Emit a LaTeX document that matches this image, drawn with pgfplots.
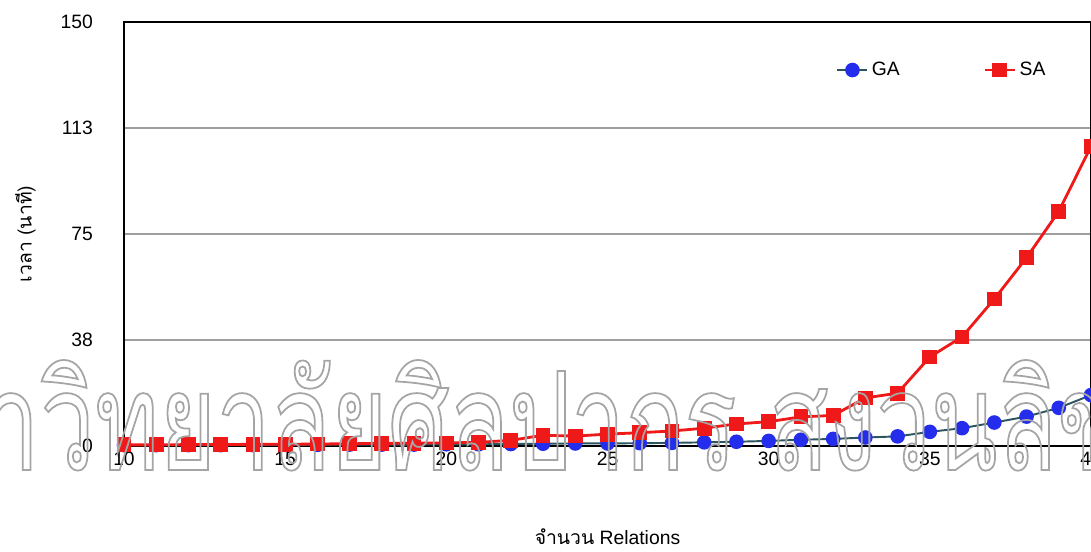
\documentclass[border=0pt]{standalone}
\usepackage{fontspec}
\setmainfont{Liberation Sans}
\newfontfamily\thaifont[Script=Thai]{Loma}
\newfontfamily\wmfont[Script=Thai,FakeStretch=0.71]{Loma}
\usepackage{pgfplots}
\pgfplotsset{compat=1.18}
\definecolor{gablue}{RGB}{35,45,235}
\definecolor{galine}{RGB}{45,85,95}
\definecolor{sared}{RGB}{240,25,25}
\definecolor{wmgray}{RGB}{165,165,165}
\newcommand{\outlinetext}[1]{\special{pdf:literal direct 1 Tr 1 w}#1\special{pdf:literal direct 0 Tr}}
\begin{document}
\begin{tikzpicture}
\begin{axis}[
  at={(2.48cm,2.12cm)}, anchor=south west,
  scale only axis, width=19.34cm, height=8.48cm,
  xmin=10, xmax=40, ymin=0, ymax=150,
  clip=false,
  xtick={10,15,...,40},
  ytick={0,37.5,75,112.5,150},
  yticklabels={0,38,75,113,150},
  major tick length=0pt,
  ymajorgrids,
  grid style={gray!75, line width=0.6pt},
  axis line style={black, line width=0.8pt},
  tick label style={font=\fontsize{11}{13}\selectfont},
  /pgf/number format/assume math mode=true,
  yticklabel style={xshift=-0.5cm},
  xlabel={{\thaifont จำนวน} Relations},
  ylabel={{\thaifont เวลา (นาที)}},
  label style={font=\fontsize{11}{13}\selectfont},
  x label style={at={(axis description cs:0.5,-0.215)}, anchor=center},
  y label style={at={(axis description cs:-0.102,0.5)}, anchor=center},
  legend columns=2,
  legend style={draw=none, fill=none, at={(axis cs:31.93,133)}, anchor=west,
    font=\fontsize{11}{13}\selectfont,
    /tikz/every even column/.append style={column sep=1.6cm}},
]
\addplot[color=galine, line width=1.1pt, mark=*, mark size=3.6pt,
  mark options={draw=gablue, fill=gablue}] coordinates {
(10,0.3) (11,0.3) (12,0.3) (13,0.3) (14,0.3) (15,0.4) (16,0.4) (17,0.5)
(18,0.5) (19,0.5) (20,0.6) (21,0.6) (22,0.7) (23,0.8) (24,0.9) (25,0.9)
(26,1.0) (27,1.1) (28,1.3) (29,1.5) (30,1.8) (31,2.2) (32,2.5) (33,3.0)
(34,3.4) (35,5.0) (36,6.3) (37,8.3) (38,10.4) (39,13.5) (40,18.0)
};
\addlegendentry{GA}
\addplot[color=sared, line width=1.6pt, mark=square*, mark size=3.4pt,
  mark options={draw=sared, fill=sared}] coordinates {
(10,0.4) (11,0.4) (12,0.5) (13,0.5) (14,0.6) (15,0.6) (16,0.7) (17,0.8)
(18,0.9) (19,1.0) (20,1.1) (21,1.3) (22,2.0) (23,3.8) (24,3.5) (25,4.2)
(26,4.7) (27,5.3) (28,6.3) (29,7.8) (30,8.6) (31,10.3) (32,10.8) (33,17.0)
(34,18.7) (35,31.5) (36,38.6) (37,52.0) (38,66.6) (39,83.0) (40,106.0)
};
\addlegendentry{SA}
\end{axis}
\node[anchor=base west, inner sep=0, text=wmgray] at (0.8cm,1.64cm)
  {\fontsize{78}{78}\selectfont\wmfont\outlinetext{วิทยาลัยศิลปากร สงวนลิขสิทธิ์}};
\node[anchor=base east, inner sep=0, text=wmgray] at (0.8cm,1.64cm)
  {\fontsize{78}{78}\selectfont\wmfont\outlinetext{มหา}};
\pgfresetboundingbox
\path[use as bounding box] (0,0) rectangle (21.82cm,11.04cm);
\end{tikzpicture}
\end{document}
